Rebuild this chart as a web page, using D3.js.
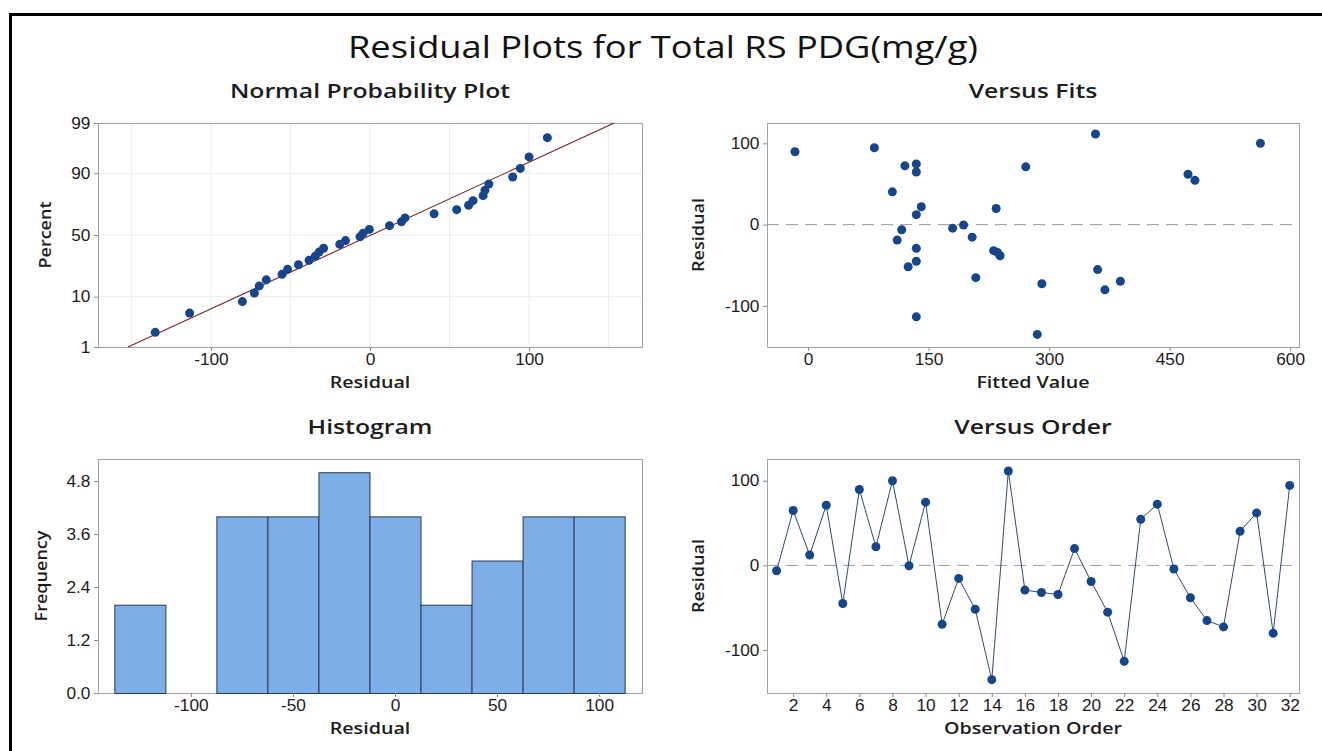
<!DOCTYPE html>
<html>
<head>
<meta charset="utf-8">
<script src="https://cdn.jsdelivr.net/npm/d3@7"></script>
<style>
  body { margin: 0; background: #fff; }
  svg { display: block; font-family: "Open Sans", "Noto Sans", sans-serif; }
  .axis .domain { display: none; }
  .axis .tick line { stroke: #8a8a8a; }
  .axis .tick text { font-size: 16px; fill: #1c1c1c; }
  .ptitle { font-size: 20px; font-weight: 600; fill: #1c1c1c; }
  .alabel { font-size: 16.4px; font-weight: 600; fill: #1c1c1c; }
</style>
</head>
<body>
<svg id="chart" width="1322" height="751"></svg>
<script>
var observation = [1, 2, 3, 4, 5, 6, 7, 8, 9, 10, 11, 12, 13, 14, 15, 16,
                   17, 18, 19, 20, 21, 22, 23, 24, 25, 26, 27, 28, 29, 30, 31, 32];
var residual = [-6.3, 64.8, 12.3, 71.1, -45, 89.7, 22, 100, -0.4, 74.7, -69.6, -15.4,
                -51.8, -135, 111.5, -29.2, -32, -34.4, 19.8, -19, -55.3, -113.4, 54.5, 72.3,
                -4.3, -38.3, -65.2, -72.7, 40.3, 62, -80.2, 94.5];
var fitted = [116.6, 134.8, 134.8, 271, 134.8, -16.2, 141, 563, 193.6, 134.8, 388.7, 204.3,
              124.7, 285.3, 357.8, 134.8, 231, 236, 234.2, 111, 360.4, 134.8, 481.5, 120.6,
              180, 239, 208.8, 291, 105, 472.9, 369.5, 82.6];

// histogram bin edges (width 25)
var binEdges = [-137.5, -112.5, -87.5, -62.5, -37.5, -12.5, 12.5, 37.5, 62.5, 87.5, 112.5];

// tick labels
var percentTicks = [1, 10, 50, 90, 99];
var residTicks = [-100, 0, 100];
var fitTicks = [0, 150, 300, 450, 600];
var histXTicks = [-100, -50, 0, 50, 100];
var freqTicks = [0, 1.2, 2.4, 3.6, 4.8];
var orderTicks = [2, 4, 6, 8, 10, 12, 14, 16, 18, 20, 22, 24, 26, 28, 30, 32];

var dotColor = "#16458b",
    frameColor = "#a3a3a3";

var svg = d3.select("#chart");

// the reference text is a bit wider than tall, stretch it sideways
function putText(cls, x, y, sx, rot) {
    return svg.append("text").attr("class", cls)
        .attr("text-anchor", "middle")
        .attr("transform", "translate(" + x + "," + y + ")" + (rot ? " rotate(-90)" : "") + " scale(" + sx + ",1)");
}

// outer frame (only top and left edges show in the picture)
svg.append("rect")
    .attr("x", 10.5).attr("y", 14.5)
    .attr("width", 1330).attr("height", 760)
    .attr("fill", "none")
    .attr("stroke", "#000")
    .attr("stroke-width", 3);

putText(null, 663, 58, 1.17)
    .style("font-size", "31px")
    .style("fill", "#111")
    .text("Residual Plots for Total RS PDG(mg/g)");

// inverse normal cdf (Acklam)
function qnorm(p) {
    var a = [-3.969683028665376e+01, 2.209460984245205e+02, -2.759285104469687e+02,
             1.383577518672690e+02, -3.066479806614716e+01, 2.506628277459239e+00],
        b = [-5.447609879822406e+01, 1.615858368580409e+02, -1.556989798598866e+02,
             6.680131188771972e+01, -1.328068155288572e+01],
        c = [-7.784894002430293e-03, -3.223964580411365e-01, -2.400758277161838e+00,
             -2.549732539343734e+00, 4.374664141464968e+00, 2.938163982698783e+00],
        d = [7.784695709041462e-03, 3.224671290700398e-01, 2.445134137142996e+00,
             3.754408661907416e+00];
    var q, r;
    if (p < 0.02425) {
        q = Math.sqrt(-2 * Math.log(p));
        return (((((c[0]*q+c[1])*q+c[2])*q+c[3])*q+c[4])*q+c[5]) /
               ((((d[0]*q+d[1])*q+d[2])*q+d[3])*q+1);
    }
    if (p > 1 - 0.02425) {
        q = Math.sqrt(-2 * Math.log(1 - p));
        return -(((((c[0]*q+c[1])*q+c[2])*q+c[3])*q+c[4])*q+c[5]) /
                ((((d[0]*q+d[1])*q+d[2])*q+d[3])*q+1);
    }
    q = p - 0.5; r = q * q;
    return (((((a[0]*r+a[1])*r+a[2])*r+a[3])*r+a[4])*r+a[5])*q /
           (((((b[0]*r+b[1])*r+b[2])*r+b[3])*r+b[4])*r+1);
}

// builds one panel with its titles and returns its inner g plus size
function panel(box, title, xLabel, yLabel, yLabelX) {
    var w = box.x1 - box.x0, h = box.y1 - box.y0;
    var g = svg.append("g").attr("transform", "translate(" + box.x0 + "," + box.y0 + ")");
    var cx = (box.x0 + box.x1) / 2;
    putText("ptitle", cx, box.y0 - 25, 1.24).text(title);
    putText("alabel", cx, box.y1 + 41, 1.2).text(xLabel);
    putText("alabel", yLabelX, (box.y0 + box.y1) / 2, 1.1, true).text(yLabel);
    return {g: g, w: w, h: h};
}

function frame(p) {
    p.g.append("rect")
        .attr("x", 0.5).attr("y", 0.5)
        .attr("width", p.w).attr("height", p.h)
        .attr("fill", "none").attr("stroke", frameColor);
}

function axes(p, xAxis, yAxis) {
    var gx = p.g.append("g").attr("class", "axis")
        .attr("transform", "translate(0," + p.h + ")")
        .call(xAxis.tickSize(4).tickSizeOuter(0).tickPadding(3));
    var gy = p.g.append("g").attr("class", "axis")
        .call(yAxis.tickSize(4).tickSizeOuter(0).tickPadding(3));
    gx.selectAll(".tick text").attr("transform", "scale(1.08,1)");
    gy.selectAll(".tick text").attr("transform", "scale(1.08,1)");
}

var plain = d => String(d);

// ---------- Normal probability plot ----------
var npp = panel({x0: 98, y0: 123, x1: 642, y1: 347}, "Normal Probability Plot", "Residual", "Percent", 51);
var nX = d3.scaleLinear().domain([-171, 171]).range([0, npp.w]);
var nY = d3.scaleLinear().domain([qnorm(0.01), qnorm(0.99)]).range([npp.h, 0]);

npp.g.append("g").selectAll("line").data([-150, -100, -50, 0, 50, 100, 150]).join("line")
    .attr("x1", d => nX(d)).attr("x2", d => nX(d))
    .attr("y1", 0).attr("y2", npp.h)
    .attr("stroke", "#ececec");
npp.g.append("g").selectAll("line").data(percentTicks).join("line")
    .attr("x1", 0).attr("x2", npp.w)
    .attr("y1", d => nY(qnorm(d / 100))).attr("y2", d => nY(qnorm(d / 100)))
    .attr("stroke", "#ececec");
frame(npp);

var mu = d3.mean(residual), sd = d3.deviation(residual);
var zLo = qnorm(0.01), zHi = qnorm(0.99);
npp.g.append("line")
    .attr("x1", nX(mu + zLo * sd)).attr("y1", nY(zLo))
    .attr("x2", nX(mu + zHi * sd)).attr("y2", nY(zHi))
    .attr("stroke", "#7a2323").attr("stroke-width", 1.1);

var sorted = residual.slice().sort(d3.ascending);
var n = sorted.length;
npp.g.append("g").selectAll("circle").data(sorted).join("circle")
    .attr("cx", d => nX(d))
    .attr("cy", (d, i) => nY(qnorm((i + 1 - 0.3) / (n + 0.4))))
    .attr("r", 4.5).attr("fill", dotColor);

axes(npp,
    d3.axisBottom(nX).tickValues(residTicks).tickFormat(plain),
    d3.axisLeft(nY).tickValues(percentTicks.map(p => qnorm(p / 100)))
        .tickFormat((d, i) => percentTicks[i]));

// ---------- Versus fits ----------
var vf = panel({x0: 767, y0: 123, x1: 1299, y1: 347}, "Versus Fits", "Fitted Value", "Residual", 704);
var fX = d3.scaleLinear().domain([-51, 611]).range([0, vf.w]);
var fY = d3.scaleLinear().domain([-150.5, 125]).range([vf.h, 0]);
frame(vf);
vf.g.append("line")
    .attr("x1", 0).attr("x2", vf.w)
    .attr("y1", fY(0)).attr("y2", fY(0))
    .attr("stroke", "#9b9b9b").attr("stroke-dasharray", "12,7");
vf.g.append("g").selectAll("circle").data(observation).join("circle")
    .attr("cx", (d, i) => fX(fitted[i]))
    .attr("cy", (d, i) => fY(residual[i]))
    .attr("r", 4.5).attr("fill", dotColor);
axes(vf, d3.axisBottom(fX).tickValues(fitTicks),
    d3.axisLeft(fY).tickValues(residTicks).tickFormat(plain));

// ---------- Histogram ----------
var hs = panel({x0: 98, y0: 459, x1: 642, y1: 693}, "Histogram", "Residual", "Frequency", 47);
var hX = d3.scaleLinear().domain([-145.5, 121]).range([0, hs.w]);
var hY = d3.scaleLinear().domain([0, 5.3]).range([hs.h, 0]);
var bins = d3.bin().domain([binEdges[0], binEdges[binEdges.length - 1]])
    .thresholds(binEdges.slice(1, -1))(residual);
frame(hs);
hs.g.append("g").selectAll("rect").data(bins).join("rect")
    .attr("x", d => hX(d.x0) + 0.5)
    .attr("y", d => hY(d.length) + 0.5)
    .attr("width", d => hX(d.x1) - hX(d.x0))
    .attr("height", d => hY(0) - hY(d.length))
    .attr("fill", "#7eaee8")
    .attr("stroke", "#2b3a4e").attr("stroke-width", 1);
axes(hs, d3.axisBottom(hX).tickValues(histXTicks).tickFormat(plain),
    d3.axisLeft(hY).tickValues(freqTicks).tickFormat(d3.format(".1f")));

// ---------- Versus order ----------
var vo = panel({x0: 767, y0: 459, x1: 1299, y1: 693}, "Versus Order", "Observation Order", "Residual", 704);
var oX = d3.scaleLinear().domain([0.42, 32.56]).range([0, vo.w]);
var oY = d3.scaleLinear().domain([-150.8, 125.7]).range([vo.h, 0]);
frame(vo);
vo.g.append("line")
    .attr("x1", 0).attr("x2", vo.w)
    .attr("y1", oY(0)).attr("y2", oY(0))
    .attr("stroke", "#9b9b9b").attr("stroke-dasharray", "12,7");
vo.g.append("path")
    .datum(observation)
    .attr("fill", "none")
    .attr("stroke", "#2f4b6e").attr("stroke-width", 1)
    .attr("d", d3.line().x(d => oX(d)).y((d, i) => oY(residual[i])));
vo.g.append("g").selectAll("circle").data(observation).join("circle")
    .attr("cx", d => oX(d))
    .attr("cy", (d, i) => oY(residual[i]))
    .attr("r", 4.5).attr("fill", dotColor);
axes(vo, d3.axisBottom(oX).tickValues(orderTicks),
    d3.axisLeft(oY).tickValues(residTicks).tickFormat(plain));
</script>
</body>
</html>
